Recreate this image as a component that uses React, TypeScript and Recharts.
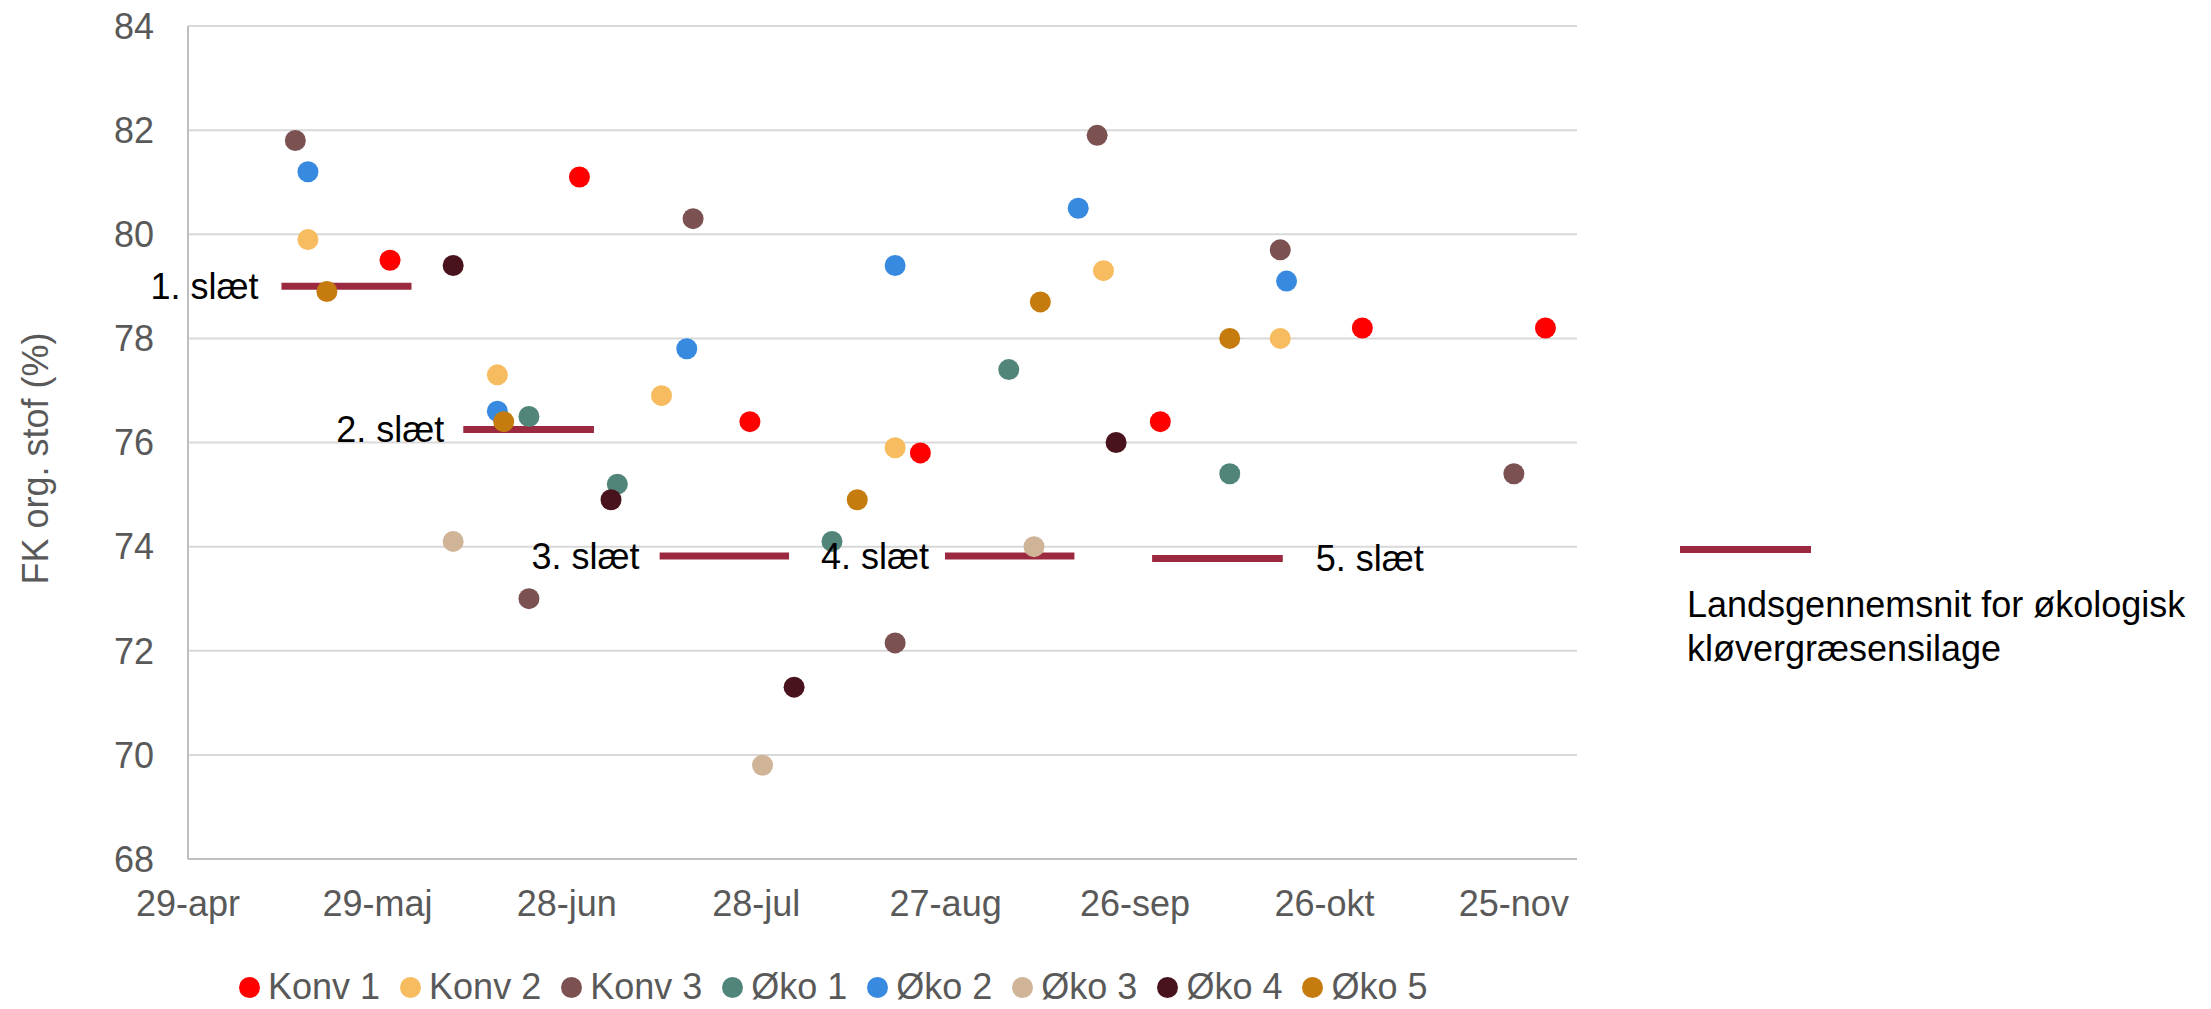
import React from 'react';
import {
  ScatterChart,
  Scatter,
  XAxis,
  YAxis,
  CartesianGrid,
  ReferenceLine,
  Legend,
} from 'recharts';

// ---- Data (x = days after 29-apr) ----
const tickDays = [0, 30, 60, 90, 120, 150, 180, 210];
const tickLabels = ['29-apr', '29-maj', '28-jun', '28-jul', '27-aug', '26-sep', '26-okt', '25-nov'];
const yTicks = [68, 70, 72, 74, 76, 78, 80, 82, 84];

const seriesNames = ['Konv 1', 'Konv 2', 'Konv 3', 'Øko 1', 'Øko 2', 'Øko 3', 'Øko 4', 'Øko 5'];

const konv1Days = [32, 62, 89, 116, 154, 186, 215];
const konv1Values = [79.5, 81.1, 76.4, 75.8, 76.4, 78.2, 78.2];

const konv2Days = [19, 49, 75, 112, 145, 173];
const konv2Values = [79.9, 77.3, 76.9, 75.9, 79.3, 78.0];

const konv3Days = [17, 54, 80, 112, 144, 173, 210];
const konv3Values = [81.8, 73.0, 80.3, 72.15, 81.9, 79.7, 75.4];

const oko1Days = [54, 68, 102, 130, 165];
const oko1Values = [76.5, 75.2, 74.1, 77.4, 75.4];

const oko2Days = [19, 49, 79, 112, 141, 174];
const oko2Values = [81.2, 76.6, 77.8, 79.4, 80.5, 79.1];

const oko3Days = [42, 91, 134];
const oko3Values = [74.1, 69.8, 74.0];

const oko4Days = [42, 67, 96, 147];
const oko4Values = [79.4, 74.9, 71.3, 76.0];

const oko5Days = [22, 50, 106, 135, 165];
const oko5Values = [78.9, 76.4, 74.9, 78.7, 78.0];

// National averages per cut
const slaetLabels = ['1. slæt', '2. slæt', '3. slæt', '4. slæt', '5. slæt'];
const slaetStartDays = [14.8, 43.6, 74.7, 119.9, 152.7];
const slaetEndDays = [35.4, 64.3, 95.2, 140.4, 173.4];
const slaetValues = [79.0, 76.25, 73.82, 73.82, 73.77];
const averageLegendLabel = ['Landsgennemsnit for økologisk', 'kløvergræsensilage'];

// ---- Styles ----
const seriesColors = ['#FF0000', '#F7BC60', '#7B5152', '#52857A', '#378AE0', '#CFB497', '#48131C', '#C67B0E'];
const slaetColor = '#9B2A40';
const slaetLabelPositions: Array<'left' | 'right'> = ['left', 'left', 'left', 'left', 'right'];
const slaetLabelOffsets = [23, 19, 20, 16, 33];
const FONT = '"Liberation Sans", Arial, sans-serif';
const GRAY_TEXT = '#595959';

const allDays = [konv1Days, konv2Days, konv3Days, oko1Days, oko2Days, oko3Days, oko4Days, oko5Days];
const allValues = [konv1Values, konv2Values, konv3Values, oko1Values, oko2Values, oko3Values, oko4Values, oko5Values];

const seriesData = allDays.map((days, i) =>
  days.map((d, j) => ({ x: d, y: allValues[i][j] }))
);

const makeDot = (color: string) => (props: any) => {
  if (props.cx == null || props.cy == null) return <g />;
  return <circle cx={props.cx} cy={props.cy} r={10.5} fill={color} />;
};

const YTitle = (props: any) => {
  const vb = props.viewBox || { x: 0, y: 0, width: 0, height: 0 };
  const x = 48;
  const y = vb.y + vb.height / 2 + 16;
  return (
    <text
      x={x}
      y={y}
      transform={`rotate(-90 ${x} ${y})`}
      textAnchor="middle"
      fill={GRAY_TEXT}
      fontSize={36}
      fontFamily={FONT}
    >
      FK org. stof (%)
    </text>
  );
};

const BottomLegend = (props: any) => {
  const payload = props.payload || [];
  return (
    <div
      style={{
        display: 'flex',
        alignItems: 'center',
        paddingLeft: 239,
        height: 36,
        fontFamily: FONT,
        fontSize: 36,
        lineHeight: '36px',
        color: GRAY_TEXT,
      }}
    >
      {payload.map((p: any, i: number) => (
        <div key={i} style={{ display: 'flex', alignItems: 'center', marginRight: 20 }}>
          <span
            style={{
              display: 'inline-block',
              width: 21,
              height: 21,
              borderRadius: '50%',
              background: p.color,
              marginRight: 8,
            }}
          />
          <span style={{ whiteSpace: 'nowrap' }}>{p.value}</span>
        </div>
      ))}
    </div>
  );
};

export default function App() {
  return (
    <div
      style={{
        position: 'absolute',
        left: 0,
        top: 0,
        width: 2211,
        height: 1009,
        overflow: 'hidden',
        background: '#FFFFFF',
      }}
    >
      <ScatterChart
        width={2211}
        height={1009}
        margin={{ top: 26, right: 634, bottom: 90, left: 88 }}
      >
        <CartesianGrid horizontal vertical={false} stroke="#D9D9D9" strokeWidth={2} />
        <XAxis
          type="number"
          dataKey="x"
          domain={[0, 220]}
          ticks={tickDays}
          interval={0}
          tickFormatter={(v: number) => tickLabels[tickDays.indexOf(v)] ?? ''}
          height={60}
          tickLine={false}
          tickSize={0}
          tickMargin={31}
          axisLine={{ stroke: '#BFBFBF', strokeWidth: 2 }}
          tick={{ fill: GRAY_TEXT, fontSize: 36, fontFamily: FONT }}
        />
        <YAxis
          type="number"
          dataKey="y"
          domain={[68, 84]}
          ticks={yTicks}
          interval={0}
          width={100}
          tickLine={false}
          tickSize={0}
          tickMargin={34}
          axisLine={{ stroke: '#BFBFBF', strokeWidth: 2 }}
          tick={{ fill: GRAY_TEXT, fontSize: 36, fontFamily: FONT }}
          label={<YTitle />}
        />
        {seriesData.map((data, i) => (
          <Scatter
            key={seriesNames[i]}
            name={seriesNames[i]}
            data={data}
            fill={seriesColors[i]}
            shape={makeDot(seriesColors[i])}
            isAnimationActive={false}
          />
        ))}
        {slaetLabels.map((lab, i) => (
          <ReferenceLine
            key={lab}
            segment={[
              { x: slaetStartDays[i], y: slaetValues[i] },
              { x: slaetEndDays[i], y: slaetValues[i] },
            ]}
            stroke={slaetColor}
            strokeWidth={7}
            ifOverflow="visible"
            label={{
              value: lab,
              position: slaetLabelPositions[i],
              offset: slaetLabelOffsets[i],
              fill: '#000000',
              fontSize: 36,
              fontFamily: FONT,
            }}
          />
        ))}
        <Legend
          layout="horizontal"
          verticalAlign="middle"
          align="center"
          content={<BottomLegend />}
          wrapperStyle={{ left: 0, top: 969, width: 2211, height: 36 }}
        />
      </ScatterChart>
      <div style={{ position: 'absolute', left: 1680, top: 545.5, width: 131, height: 7, background: slaetColor }} />
      <div
        style={{
          position: 'absolute',
          left: 1687,
          top: 582.6,
          fontFamily: FONT,
          fontSize: 36,
          lineHeight: '44.4px',
          color: '#000000',
          whiteSpace: 'nowrap',
        }}
      >
        {averageLegendLabel.map((t, i) => (
          <div key={i}>{t}</div>
        ))}
      </div>
    </div>
  );
}
